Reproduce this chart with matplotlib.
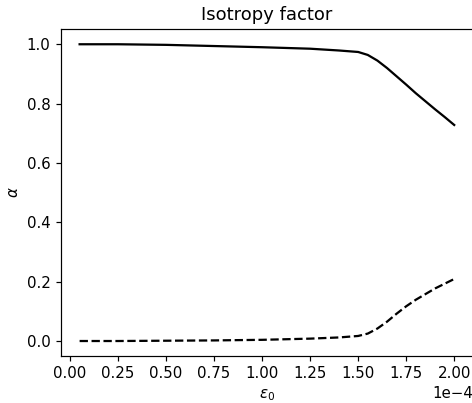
import matplotlib.pyplot as plt

# strain values (scaled by 1e-4 through the offset text)
eps = [0.05e-4, 0.25e-4, 0.50e-4, 0.75e-4, 1.00e-4, 1.25e-4, 1.40e-4, 1.50e-4,
       1.55e-4, 1.60e-4, 1.65e-4, 1.70e-4, 1.75e-4, 1.80e-4, 1.85e-4, 1.90e-4,
       1.95e-4, 2.00e-4]
# isotropy factor, first and second component
alpha_1 = [1.000, 1.000, 0.998, 0.994, 0.990, 0.985, 0.979, 0.974,
           0.964, 0.945, 0.920, 0.892, 0.864, 0.835, 0.808, 0.781,
           0.755, 0.728]
alpha_2 = [0.000, 0.000, 0.001, 0.002, 0.004, 0.008, 0.012, 0.017,
           0.025, 0.042, 0.065, 0.092, 0.117, 0.139, 0.158, 0.177,
           0.193, 0.209]

dpi = 108
fig = plt.figure(figsize=(472 / dpi, 403 / dpi), dpi=dpi)
ax = fig.add_axes([0.129, 0.117, 0.873, 0.810])

ax.plot(eps, alpha_1, color='black', linestyle='-', linewidth=1.5)
ax.plot(eps, alpha_2, color='black', linestyle='--', linewidth=1.5)

ax.ticklabel_format(style='sci', axis='x', scilimits=(0, 0))
ax.set_title('Isotropy factor')
ax.set_xlabel(r'$\varepsilon_0$')
ax.set_ylabel(r'$\alpha$')

fig.savefig('out.png', dpi=dpi)
